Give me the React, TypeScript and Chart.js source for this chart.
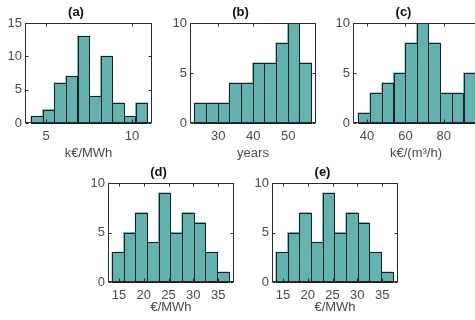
import React, { useEffect, useRef } from "react";
import { Chart, registerables } from "chart.js";

Chart.register(...registerables);

// ---- data ----
const aCenters = [4.47, 5.14, 5.82, 6.49, 7.17, 7.84, 8.51, 9.19, 9.86, 10.54];
const aCounts = [1, 2, 6, 7, 13, 4, 10, 3, 1, 3];
const aXTicks = [5, 10];
const aYTicks = [0, 5, 10, 15];

const bCenters = [24.8, 28.13, 31.47, 34.8, 38.13, 41.47, 44.8, 48.13, 51.47, 54.8];
const bCounts = [2, 2, 2, 4, 4, 6, 6, 8, 10, 6];
const bXTicks = [30, 40, 50];
const bYTicks = [0, 5, 10];

const cCenters = [38.5, 44.6, 50.7, 56.8, 62.8, 68.9, 75.0, 81.1, 87.2, 93.3];
const cCounts = [1, 3, 4, 5, 8, 10, 8, 3, 3, 5];
const cXTicks = [40, 60, 80];
const cYTicks = [0, 5, 10];

const dCenters = [14.78, 17.13, 19.48, 21.83, 24.18, 26.53, 28.88, 31.23, 33.58, 35.93];
const dCounts = [3, 5, 7, 4, 9, 5, 7, 6, 3, 1];
const dXTicks = [15, 20, 25, 30, 35];
const dYTicks = [0, 5, 10];

const eCenters = [14.78, 17.13, 19.48, 21.83, 24.18, 26.53, 28.88, 31.23, 33.58, 35.93];
const eCounts = [3, 5, 7, 4, 9, 5, 7, 6, 3, 1];
const eXTicks = [15, 20, 25, 30, 35];
const eYTicks = [0, 5, 10];

const FONT = "'Liberation Sans', Arial, Helvetica, sans-serif";
const TICK_COLOR = "#4a4a4a";
const AXIS_COLOR = "#2b2b2b";
const BAR_EDGE = "#1c1c1c";

const boxPlugin = {
  id: "matlabBox",
  afterDatasetsDraw(chart: any) {
    const { ctx, chartArea, scales } = chart;
    ctx.save();
    // bar outlines from the bar elements laid out by the library
    ctx.strokeStyle = BAR_EDGE;
    ctx.lineWidth = 1;
    const meta = chart.getDatasetMeta(0);
    meta.data.forEach((bar: any) => {
      const props = bar.getProps(["x", "y", "base", "width"], true);
      const x0 = Math.round(props.x - props.width / 2) + 0.5;
      const x1 = Math.round(props.x + props.width / 2) + 0.5;
      const y0 = Math.round(props.y) + 0.5;
      const y1 = Math.round(props.base) + 0.5;
      ctx.strokeRect(x0, y0, x1 - x0, y1 - y0);
    });
    // axes box with inward ticks on all four sides
    const l = Math.round(chartArea.left) + 0.5;
    const r = Math.round(chartArea.right) - 0.5;
    const t = Math.round(chartArea.top) + 0.5;
    const b = Math.round(chartArea.bottom) - 0.5;
    ctx.strokeStyle = AXIS_COLOR;
    ctx.strokeRect(l, t, r - l, b - t);
    const tl = 3;
    ctx.beginPath();
    scales.x.ticks.forEach((tk: any) => {
      const px = Math.round(scales.x.getPixelForValue(tk.value)) + 0.5;
      ctx.moveTo(px, b);
      ctx.lineTo(px, b - tl);
      ctx.moveTo(px, t);
      ctx.lineTo(px, t + tl);
    });
    scales.y.ticks.forEach((tk: any) => {
      const py = Math.round(scales.y.getPixelForValue(tk.value)) + 0.5;
      ctx.moveTo(l, py);
      ctx.lineTo(l + tl, py);
      ctx.moveTo(r, py);
      ctx.lineTo(r - tl, py);
    });
    ctx.stroke();
    ctx.restore();
  },
};

type HistProps = {
  left: number;
  top: number;
  boxWidth: number;
  boxHeight: number;
  xAxisHeight: number;
  title: string;
  xTitle: string;
  centers: number[];
  counts: number[];
  xMin: number;
  xMax: number;
  yMax: number;
  xTicks: number[];
  yTicks: number[];
};

const Y_AXIS_W = 25;
const TITLE_H = 23;

function Hist(p: HistProps) {
  const ref = useRef<HTMLCanvasElement | null>(null);
  const width = Y_AXIS_W + p.boxWidth + Y_AXIS_W;
  const height = TITLE_H + p.boxHeight + p.xAxisHeight;

  useEffect(() => {
    if (!ref.current) return;
    const chart = new Chart(ref.current, {
      type: "bar",
      data: {
        datasets: [
          {
            data: p.centers.map((x, i) => ({ x, y: p.counts[i] })),
            backgroundColor: "rgb(98,178,176)",
            borderWidth: 0,
            barPercentage: 1,
            categoryPercentage: 1,
            inflateAmount: 0.5,
          } as any,
        ],
      },
      options: {
        responsive: false,
        animation: false,
        events: [],
        layout: { padding: { left: 0, right: Y_AXIS_W, top: 0, bottom: 0 } },
        plugins: {
          legend: { display: false },
          tooltip: { enabled: false },
          title: {
            display: true,
            text: p.title,
            color: "#111",
            font: { family: FONT, size: 13, weight: "bold", lineHeight: 1.2 },
            padding: { top: 5, bottom: 2.4 },
          },
        },
        scales: {
          x: {
            type: "linear",
            min: p.xMin,
            max: p.xMax,
            offset: false,
            grid: { display: false, drawTicks: false },
            border: { display: false },
            afterBuildTicks: (s: any) => {
              s.ticks = p.xTicks.map((v) => ({ value: v }));
            },
            afterFit: (s: any) => {
              s.height = p.xAxisHeight;
            },
            ticks: {
              color: TICK_COLOR,
              padding: 6,
              maxRotation: 0,
              autoSkip: false,
              font: { family: FONT, size: 13 },
            },
            title: {
              display: true,
              text: p.xTitle,
              color: TICK_COLOR,
              padding: { top: 0, bottom: 0 },
              font: { family: FONT, size: 13, lineHeight: 1.2 },
            },
          },
          y: {
            type: "linear",
            min: 0,
            max: p.yMax,
            grid: { display: false, drawTicks: false },
            border: { display: false },
            afterBuildTicks: (s: any) => {
              s.ticks = p.yTicks.map((v) => ({ value: v }));
            },
            afterFit: (s: any) => {
              s.width = Y_AXIS_W;
            },
            ticks: {
              color: TICK_COLOR,
              padding: 3,
              font: { family: FONT, size: 13 },
            },
          },
        },
      } as any,
      plugins: [boxPlugin],
    });
    return () => chart.destroy();
  }, []);

  return (
    <canvas
      ref={ref}
      width={width}
      height={height}
      style={{
        position: "absolute",
        left: p.left - Y_AXIS_W,
        top: p.top - TITLE_H,
        width,
        height,
      }}
    />
  );
}

export default function App() {
  return (
    <div
      style={{
        position: "fixed",
        left: 0,
        top: 0,
        width: 475,
        height: 320,
        overflow: "hidden",
        background: "#ffffff",
      }}
    >
      <Hist left={25} top={23} boxWidth={127} boxHeight={100} xAxisHeight={38}
        title="(a)" xTitle="k€/MWh" centers={aCenters} counts={aCounts}
        xMin={3.78} xMax={11.16} yMax={15} xTicks={aXTicks} yTicks={aYTicks} />
      <Hist left={190} top={23} boxWidth={126} boxHeight={100} xAxisHeight={38}
        title="(b)" xTitle="years" centers={bCenters} counts={bCounts}
        xMin={21.9} xMax={57.9} yMax={10} xTicks={bXTicks} yTicks={bYTicks} />
      <Hist left={353} top={23} boxWidth={126} boxHeight={100} xAxisHeight={38}
        title="(c)" xTitle="k€/(m³/h)" centers={cCenters} counts={cCounts}
        xMin={32.7} xMax={98.3} yMax={10} xTicks={cXTicks} yTicks={cYTicks} />
      <Hist left={108} top={183} boxWidth={126} boxHeight={99} xAxisHeight={33}
        title="(d)" xTitle="€/MWh" centers={dCenters} counts={dCounts}
        xMin={12.8} xMax={38.2} yMax={10} xTicks={dXTicks} yTicks={dYTicks} />
      <Hist left={272} top={183} boxWidth={126} boxHeight={99} xAxisHeight={33}
        title="(e)" xTitle="€/MWh" centers={eCenters} counts={eCounts}
        xMin={12.8} xMax={38.2} yMax={10} xTicks={eXTicks} yTicks={eYTicks} />
    </div>
  );
}
